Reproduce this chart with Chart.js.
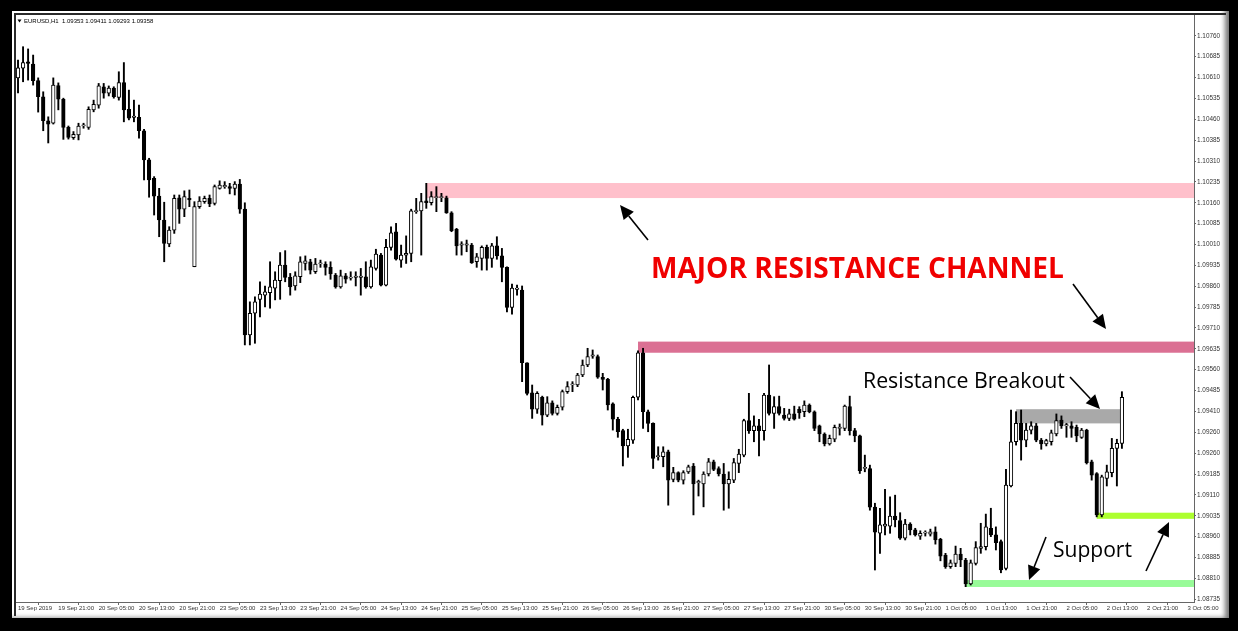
<!DOCTYPE html>
<html><head><meta charset="utf-8">
<script src="https://cdn.jsdelivr.net/npm/chart.js@4.4.1/dist/chart.umd.min.js"></script>
<style>
html,body{margin:0;padding:0;background:#000;width:1238px;height:631px;overflow:hidden;}
#panel{position:absolute;left:12px;top:11px;width:1217px;height:607px;background:#fff;box-shadow:inset -7px -3px 5px -3px #777;}
#inner{position:absolute;left:14px;top:13px;width:1212px;height:603px;border-left:2px solid #2a2a2a;border-top:2px solid #2a2a2a;box-sizing:border-box;}
#wrap{position:absolute;left:0;top:0;width:1238px;height:631px;}
</style></head><body>
<div id="panel"></div><div id="inner"></div>
<div id="wrap"><canvas id="c" width="1238" height="631"></canvas></div>
<script>
const opens = [1.10609,1.10644,1.10667,1.10659,1.10599,1.10541,1.10455,1.10446,1.10581,1.10532,
1.10431,1.10394,1.10404,1.10436,1.10431,1.10494,1.10511,1.10577,1.10554,1.10572,
1.10539,1.10592,1.10496,1.10467,1.10467,1.10419,1.10314,1.10248,1.10184,1.10098,
1.10012,1.10062,1.10178,1.10137,1.10176,1.09930,1.10146,1.10164,1.10176,1.10158,
1.10212,1.10218,1.10218,1.10212,1.10227,1.10137,1.09685,1.09763,1.09813,1.09828,
1.09837,1.09853,1.09880,1.09936,1.09892,1.09861,1.09894,1.09942,1.09948,1.09912,
1.09940,1.09940,1.09928,1.09900,1.09858,1.09897,1.09889,1.09892,1.09892,1.09894,
1.09858,1.09924,1.09972,1.09864,1.10000,1.10056,1.09954,1.09972,1.09978,1.10128,
1.10131,1.10167,1.10160,1.10178,1.10178,1.10178,1.10124,1.10065,1.10008,1.10008,
1.10008,1.09948,1.09960,1.10000,1.09960,1.10005,1.09969,1.09928,1.09784,1.09849,
1.09846,1.09585,1.09477,1.09418,1.09461,1.09397,1.09441,1.09403,1.09425,1.09481,
1.09505,1.09505,1.09541,1.09577,1.09609,1.09607,1.09533,1.09525,1.09437,1.09382,
1.09341,1.09286,1.09307,1.09461,1.09621,1.09409,1.09367,1.09247,1.09247,1.09265,
1.09166,1.09190,1.09163,1.09193,1.09214,1.09154,1.09149,1.09185,1.09229,1.09205,
1.09185,1.09149,1.09163,1.09223,1.09253,1.09377,1.09341,1.09358,1.09341,1.09469,
1.09403,1.09427,1.09397,1.09385,1.09401,1.09418,1.09409,1.09433,1.09409,1.09358,
1.09329,1.09293,1.09310,1.09349,1.09349,1.09427,1.09341,1.09322,1.09205,1.09205,
1.09066,1.08972,1.08998,1.08998,1.09034,1.09018,1.08954,1.09005,1.08984,1.08962,
1.08972,1.08969,1.08977,1.08950,1.08894,1.08852,1.08864,1.08897,1.08876,1.08790,
1.08864,1.08918,1.08924,1.08990,1.08966,1.08942,1.08846,1.09142,1.09301,1.09367,
1.09307,1.09343,1.09358,1.09307,1.09293,1.09301,1.09329,1.09379,1.09358,1.09358,
1.09353,1.09317,1.09343,1.09229,1.09187,1.09038,1.09169,1.09190,1.09277,1.09295];
const highs = [1.10673,1.10721,1.10713,1.10691,1.10609,1.10559,1.10469,1.10609,1.10591,1.10536,
1.10436,1.10416,1.10446,1.10446,1.10505,1.10529,1.10589,1.10589,1.10580,1.10577,
1.10631,1.10664,1.10565,1.10529,1.10511,1.10424,1.10320,1.10254,1.10212,1.10162,
1.10074,1.10188,1.10188,1.10203,1.10206,1.10164,1.10182,1.10184,1.10188,1.10224,
1.10239,1.10236,1.10230,1.10236,1.10244,1.10160,1.09804,1.09822,1.09876,1.09861,
1.09948,1.09912,1.09981,1.09988,1.09906,1.09912,1.09966,1.09969,1.09957,1.09960,
1.09954,1.09948,1.09948,1.09906,1.09918,1.09906,1.09912,1.09912,1.09924,1.09948,
1.09954,1.09993,1.09978,1.10029,1.10074,1.10086,1.10008,1.10041,1.10137,1.10176,
1.10194,1.10230,1.10200,1.10218,1.10194,1.10184,1.10128,1.10068,1.10020,1.10026,
1.10014,1.09978,1.10005,1.10008,1.10014,1.10038,1.09996,1.09930,1.09868,1.09864,
1.09861,1.09585,1.09505,1.09481,1.09465,1.09463,1.09448,1.09433,1.09487,1.09517,
1.09517,1.09547,1.09595,1.09637,1.09631,1.09613,1.09547,1.09529,1.09441,1.09389,
1.09346,1.09346,1.09465,1.09628,1.09637,1.09415,1.09369,1.09283,1.09283,1.09271,
1.09209,1.09193,1.09197,1.09217,1.09223,1.09163,1.09193,1.09241,1.09235,1.09211,
1.09223,1.09193,1.09241,1.09274,1.09382,1.09475,1.09394,1.09382,1.09475,1.09577,
1.09463,1.09465,1.09421,1.09418,1.09429,1.09427,1.09448,1.09437,1.09412,1.09361,
1.09333,1.09325,1.09361,1.09365,1.09433,1.09465,1.09349,1.09325,1.09253,1.09217,
1.09080,1.09062,1.09130,1.09103,1.09109,1.09046,1.09022,1.09010,1.08990,1.08981,
1.08981,1.08987,1.08995,1.08954,1.08900,1.08876,1.08926,1.08918,1.08882,1.08876,
1.08942,1.09008,1.09041,1.09062,1.08995,1.08948,1.09202,1.09415,1.09409,1.09415,
1.09367,1.09373,1.09367,1.09313,1.09310,1.09343,1.09401,1.09394,1.09367,1.09373,
1.09361,1.09349,1.09346,1.09235,1.09190,1.09181,1.09217,1.09313,1.09310,1.09481];
const lows = [1.10555,1.10595,1.10601,1.10583,1.10486,1.10419,1.10375,1.10443,1.10494,1.10388,
1.10389,1.10388,1.10386,1.10428,1.10424,1.10487,1.10500,1.10536,1.10544,1.10536,
1.10529,1.10451,1.10458,1.10451,1.10392,1.10242,1.10180,1.10116,1.10038,1.09948,
1.10002,1.10050,1.10086,1.10110,1.10146,1.09930,1.10140,1.10158,1.10146,1.10152,
1.10209,1.10212,1.10192,1.10188,1.10122,1.09649,1.09649,1.09655,1.09750,1.09786,
1.09781,1.09811,1.09813,1.09876,1.09828,1.09846,1.09873,1.09918,1.09904,1.09906,
1.09928,1.09900,1.09885,1.09853,1.09853,1.09871,1.09882,1.09861,1.09828,1.09853,
1.09853,1.09918,1.09861,1.09861,1.09990,1.09954,1.09928,1.09942,1.09948,1.10122,
1.09972,1.10140,1.10152,1.10128,1.10164,1.10122,1.10056,1.09972,1.09972,1.09984,
1.09942,1.09928,1.09918,1.09918,1.09928,1.09957,1.09876,1.09768,1.09760,1.09828,
1.09517,1.09469,1.09385,1.09403,1.09361,1.09391,1.09397,1.09397,1.09415,1.09475,
1.09481,1.09499,1.09535,1.09571,1.09601,1.09529,1.09487,1.09415,1.09343,1.09317,
1.09214,1.09245,1.09295,1.09451,1.09349,1.09337,1.09205,1.09235,1.09211,1.09073,
1.09157,1.09157,1.09149,1.09187,1.09038,1.09106,1.09067,1.09178,1.09197,1.09178,
1.09055,1.09062,1.09154,1.09190,1.09247,1.09331,1.09301,1.09250,1.09307,1.09397,
1.09349,1.09397,1.09379,1.09377,1.09379,1.09385,1.09391,1.09405,1.09341,1.09301,
1.09286,1.09289,1.09301,1.09325,1.09341,1.09325,1.09301,1.09187,1.09193,1.09055,
1.08840,1.08900,1.08966,1.08972,1.08995,1.08950,1.08948,1.08966,1.08962,1.08950,
1.08962,1.08962,1.08933,1.08873,1.08846,1.08846,1.08852,1.08852,1.08780,1.08786,
1.08858,1.08900,1.08912,1.08960,1.08912,1.08830,1.08840,1.09139,1.09289,1.09235,
1.09283,1.09329,1.09301,1.09274,1.09286,1.09289,1.09322,1.09349,1.09317,1.09317,
1.09301,1.09313,1.09221,1.09163,1.09031,1.09031,1.09142,1.09175,1.09142,1.09277];
const closes = [1.10645,1.10664,1.10661,1.10599,1.10541,1.10455,1.10443,1.10583,1.10532,1.10431,
1.10395,1.10406,1.10436,1.10436,1.10496,1.10514,1.10580,1.10554,1.10572,1.10541,
1.10592,1.10494,1.10464,1.10467,1.10419,1.10314,1.10242,1.10184,1.10098,1.10014,
1.10062,1.10176,1.10137,1.10182,1.10170,1.10146,1.10166,1.10176,1.10156,1.10218,
1.10224,1.10218,1.10212,1.10227,1.10137,1.09685,1.09763,1.09804,1.09832,1.09840,
1.09858,1.09882,1.09936,1.09892,1.09858,1.09897,1.09948,1.09951,1.09918,1.09940,
1.09940,1.09928,1.09904,1.09858,1.09897,1.09885,1.09889,1.09892,1.09892,1.09858,
1.09930,1.09976,1.09864,1.10000,1.10052,1.09957,1.09972,1.09978,1.10131,1.10131,
1.10164,1.10160,1.10182,1.10178,1.10178,1.10124,1.10060,1.10005,1.10008,1.10008,
1.09945,1.09966,1.10000,1.09960,1.10005,1.09969,1.09928,1.09784,1.09853,1.09849,
1.09585,1.09475,1.09418,1.09475,1.09397,1.09441,1.09403,1.09425,1.09481,1.09499,
1.09505,1.09541,1.09577,1.09607,1.09609,1.09533,1.09525,1.09433,1.09382,1.09337,
1.09286,1.09310,1.09461,1.09621,1.09409,1.09367,1.09241,1.09247,1.09265,1.09163,
1.09190,1.09163,1.09190,1.09211,1.09149,1.09154,1.09185,1.09229,1.09202,1.09185,
1.09149,1.09166,1.09226,1.09257,1.09377,1.09341,1.09358,1.09341,1.09469,1.09403,
1.09427,1.09403,1.09385,1.09401,1.09382,1.09405,1.09433,1.09409,1.09349,1.09329,
1.09293,1.09313,1.09353,1.09349,1.09429,1.09341,1.09322,1.09197,1.09205,1.09066,
1.08976,1.09002,1.09005,1.09034,1.09020,1.08954,1.09005,1.08984,1.08966,1.08972,
1.08972,1.08977,1.08948,1.08890,1.08852,1.08866,1.08897,1.08876,1.08790,1.08866,
1.08921,1.08924,1.08995,1.08966,1.08938,1.08840,1.09145,1.09301,1.09367,1.09307,
1.09343,1.09358,1.09307,1.09293,1.09305,1.09333,1.09377,1.09358,1.09358,1.09349,
1.09322,1.09343,1.09226,1.09181,1.09038,1.09175,1.09193,1.09277,1.09295,1.09461];

const xTickLabels = ["19 Sep 2019","19 Sep 21:00","20 Sep 05:00","20 Sep 13:00","20 Sep 21:00","23 Sep 05:00","23 Sep 13:00","23 Sep 21:00","24 Sep 05:00","24 Sep 13:00","24 Sep 21:00","25 Sep 05:00","25 Sep 13:00","25 Sep 21:00","26 Sep 05:00","26 Sep 13:00","26 Sep 21:00","27 Sep 05:00","27 Sep 13:00","27 Sep 21:00","30 Sep 05:00","30 Sep 13:00","30 Sep 21:00","1 Oct 05:00","1 Oct 13:00","1 Oct 21:00","2 Oct 05:00","2 Oct 13:00","2 Oct 21:00","3 Oct 05:00"];
const barsPerXTick = 8;
const yTickValues = [1.10760,1.10685,1.10610,1.10535,1.10460,1.10385,1.10310,1.10235,1.10160,1.10085,1.10010,1.09935,1.09860,1.09785,1.09710,1.09635,1.09560,1.09485,1.09410,1.09335,1.09260,1.09185,1.09110,1.09035,1.08960,1.08885,1.08810,1.08735];
const yTickLabels = ["1.10760","1.10685","1.10610","1.10535","1.10460","1.10385","1.10310","1.10235","1.10160","1.10085","1.10010","1.09935","1.09860","1.09785","1.09710","1.09635","1.09560","1.09485","1.09410","1.09260","1.09260","1.09185","1.09110","1.09035","1.08960","1.08885","1.08810","1.08735"];

const zoneStart = [81, 123, 198, 214, 188];
const zoneEnd = [null, null, 219, null, null];
const zoneHigh = [1.10231, 1.09661, 1.09418, 1.09046, 1.08804];
const zoneLow = [1.10177, 1.09621, 1.09367, 1.09024, 1.08779];
const zoneColors = ['#ffc0cb', '#db7093', '#a9a9a9', '#adff2f', '#98fb98'];

const headerText = 'EURUSD,H1  1.09353 1.09411 1.09293 1.09358';

const idx = opens.map((_, i) => i);
const bull = idx.map(i => closes[i] >= opens[i]);

const zonePlugin = {
  id: 'zones',
  beforeDatasetsDraw(chart) {
    const {ctx, chartArea, scales} = chart;
    const x = scales.x, y = scales.y;
    ctx.save();
    ctx.beginPath(); ctx.rect(chartArea.left, chartArea.top, chartArea.width, chartArea.height); ctx.clip();
    zoneStart.forEach((s, k) => {
      const x0 = x.getPixelForValue(s);
      const x1 = zoneEnd[k] == null ? chartArea.right : x.getPixelForValue(zoneEnd[k]);
      const y0 = y.getPixelForValue(zoneHigh[k]);
      const y1 = y.getPixelForValue(zoneLow[k]);
      ctx.fillStyle = zoneColors[k];
      ctx.fillRect(x0, y0, x1 - x0, y1 - y0);
    });
    ctx.restore();
  }
};

function arrow(ctx, x1, y1, x2, y2) {
  const ang = Math.atan2(y2 - y1, x2 - x1);
  const hl = 14, hw = 6.5;
  const bx = x2 - hl * Math.cos(ang), by = y2 - hl * Math.sin(ang);
  ctx.beginPath(); ctx.moveTo(x1, y1); ctx.lineTo(bx, by);
  ctx.lineWidth = 1.6; ctx.strokeStyle = '#000'; ctx.stroke();
  ctx.beginPath();
  ctx.moveTo(x2, y2);
  ctx.lineTo(bx + hw * Math.sin(ang), by - hw * Math.cos(ang));
  ctx.lineTo(bx - hw * Math.sin(ang), by + hw * Math.cos(ang));
  ctx.closePath(); ctx.fillStyle = '#000'; ctx.fill();
}
function fitText(ctx, text, weight, family, targetW, x, y, color) {
  ctx.font = weight + ' 20px ' + family;
  const w = ctx.measureText(text).width;
  const size = 20 * targetW / w;
  ctx.font = weight + ' ' + size.toFixed(2) + 'px ' + family;
  ctx.fillStyle = color; ctx.textAlign = 'left'; ctx.textBaseline = 'alphabetic';
  ctx.fillText(text, x, y);
}

const notePlugin = {
  id: 'notes',
  afterDraw(chart) {
    const ctx = chart.ctx;
    ctx.save();
    ctx.fillStyle = '#000';
    ctx.beginPath(); ctx.moveTo(17.5, 19.5); ctx.lineTo(21.5, 19.5); ctx.lineTo(19.5, 22.5); ctx.closePath(); ctx.fill();
    ctx.font = '6px "Liberation Sans", Arial, sans-serif';
    ctx.textBaseline = 'middle'; ctx.textAlign = 'left';
    ctx.fillText(headerText, 24, 21.5);
    fitText(ctx, 'MAJOR RESISTANCE CHANNEL', 'bold', '"Open Sans", sans-serif', 413, 651, 278, '#f00000');
    fitText(ctx, 'Resistance Breakout', 'normal', '"Open Sans", sans-serif', 202, 863, 388, '#000');
    fitText(ctx, 'Support', 'normal', '"Open Sans", sans-serif', 79, 1053, 557, '#000');
    arrow(ctx, 648, 240, 620, 205);
    arrow(ctx, 1073, 284, 1106, 329);
    arrow(ctx, 1070, 377, 1100, 409);
    arrow(ctx, 1046, 537, 1029, 580);
    arrow(ctx, 1146, 571, 1169, 522);
    ctx.restore();
  }
};

new Chart(document.getElementById('c'), {
  type: 'bar',
  data: {
    datasets: [
      {
        label: 'body',
        data: idx.map(i => ({x: i, y: [opens[i], closes[i]]})),
        backgroundColor: idx.map(i => bull[i] ? '#ffffff' : '#000000'),
        borderColor: '#000', borderWidth: 1, borderSkipped: false,
        barThickness: 3.6, minBarLength: 1.2, grouped: false, order: 1
      },
      {
        label: 'wick',
        data: idx.map(i => ({x: i, y: [lows[i], highs[i]]})),
        backgroundColor: '#000', borderWidth: 0,
        barThickness: 1.25, grouped: false, order: 2
      }
    ]
  },
  options: {
    responsive: false, animation: false, devicePixelRatio: 1,
    layout: {padding: {left: 16, top: 15, right: 10, bottom: 12}},
    plugins: {legend: {display: false}, tooltip: {enabled: false}, title: {display: false}},
    scales: {
      x: {
        type: 'linear', min: -0.4, max: 233.3, offset: false,
        afterFit(s) { s.height = 17; },
        afterBuildTicks(s) { s.ticks = xTickLabels.map((_, k) => ({value: k * barsPerXTick})); },
        grid: {drawOnChartArea: false, drawTicks: true, tickLength: 3, color: '#666'},
        border: {display: true, color: '#666', width: 1},
        ticks: {
          autoSkip: false, maxRotation: 0, minRotation: 0, align: 'start', padding: 0,
          color: '#333', font: {family: '"Liberation Sans", Arial, sans-serif', size: 6},
          callback: (v, i) => xTickLabels[i]
        }
      },
      y: {
        position: 'right', min: 1.08725, max: 1.10835,
        afterFit(s) { s.width = 34; },
        afterBuildTicks(s) { s.ticks = yTickValues.map(v => ({value: v})); },
        grid: {drawOnChartArea: false, drawTicks: true, tickLength: 2, color: '#666'},
        border: {display: true, color: '#666', width: 1},
        ticks: {
          padding: 1, color: '#333', font: {family: '"Liberation Sans", Arial, sans-serif', size: 6.4},
          callback: (v, i) => yTickLabels[i]
        }
      }
    }
  },
  plugins: [zonePlugin, notePlugin]
});
</script></body></html>
